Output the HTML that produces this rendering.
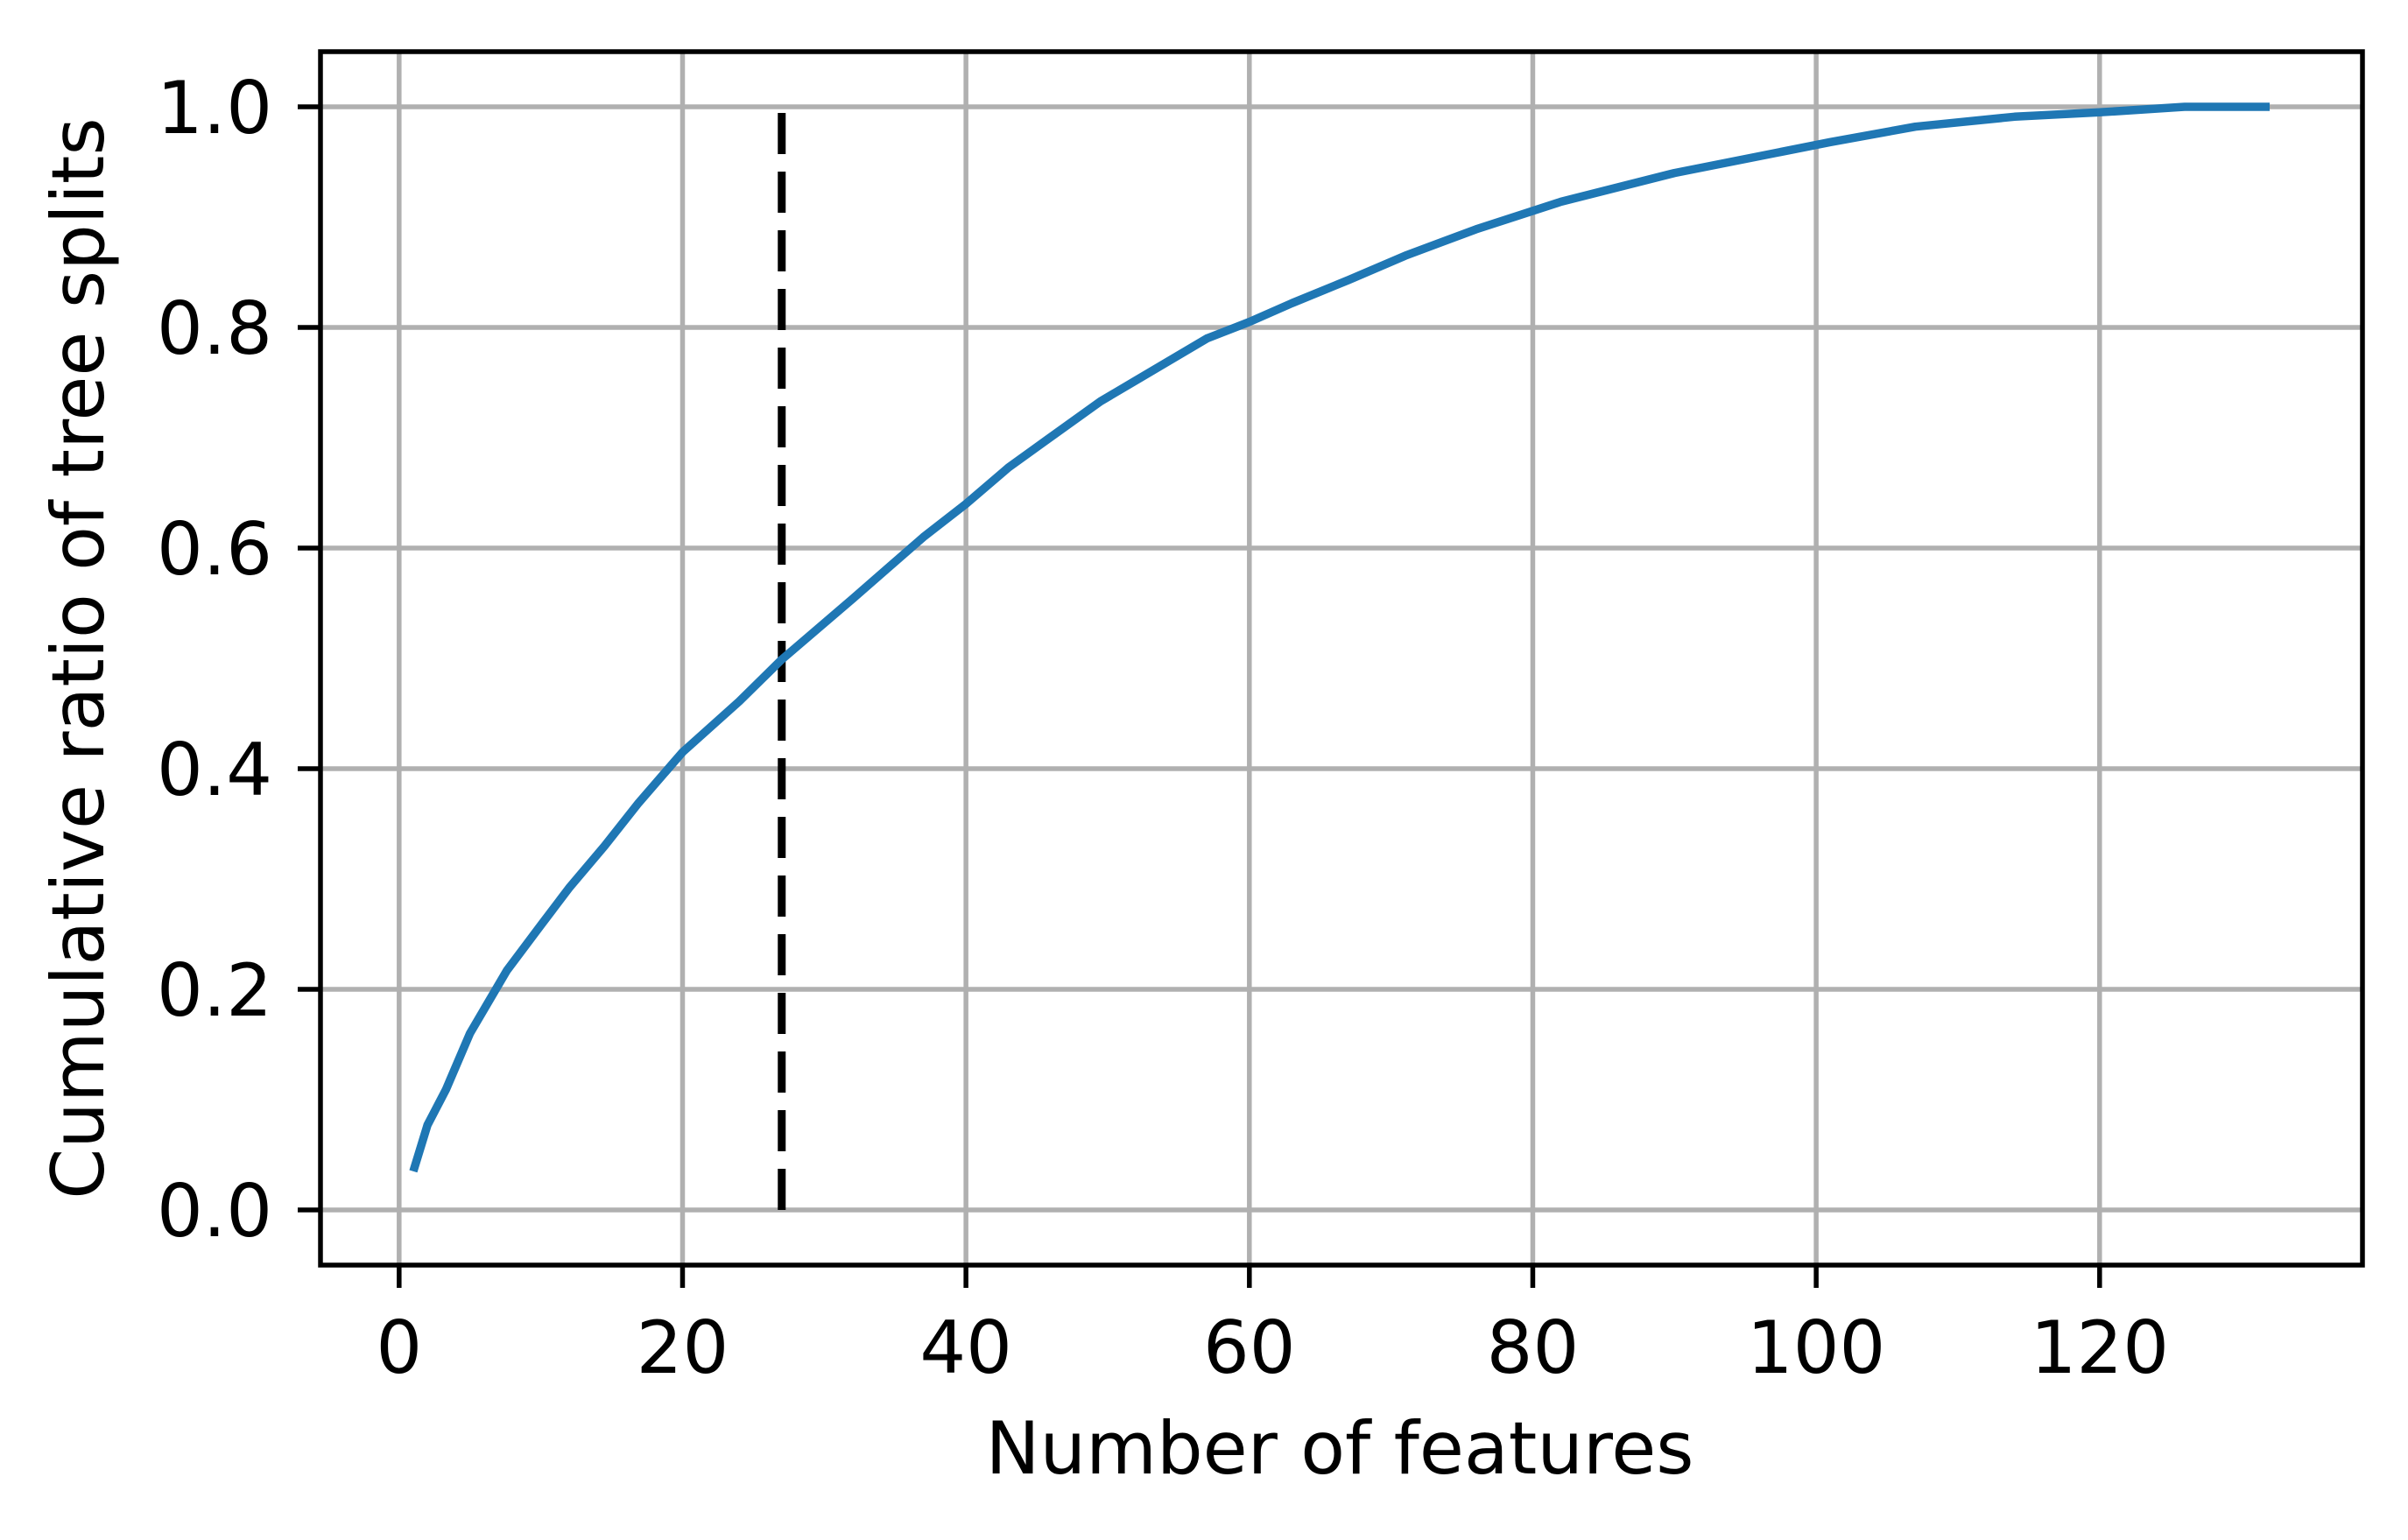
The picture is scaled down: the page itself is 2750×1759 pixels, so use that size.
<!DOCTYPE html>
<html><head><meta charset="utf-8"><style>
html,body{margin:0;padding:0;background:#fff;}
svg{display:block;}
text{font-family:"DejaVu Sans","Liberation Sans",sans-serif;fill:#000;}
</style></head><body>
<svg id="chart" width="2750" height="1759" viewBox="0 0 2750 1759" xmlns="http://www.w3.org/2000/svg">
<rect width="2750" height="1759" fill="#fff"/>
<g id="grid"></g>
<g id="marks"></g>
<rect x="366" y="59" width="2332" height="1386" fill="none" stroke="#000" stroke-width="5.5"/>
<g id="ticks"></g>
<text x="1530" y="1683" font-size="83" text-anchor="middle">Number of features</text>
<text transform="translate(118,752) rotate(-90)" font-size="83" text-anchor="middle">Cumulative ratio of tree splits</text>
</svg>
<script>
const featureCounts = [1,2,3.3,5,7.6,10,12,14.5,16.9,20,24,27,32,37,40,43,45.7,49.5,52,57,60,63,67,71,76,82,90,101,107,114,120,126,132];
const cumulativeRatio = [0.035,0.077,0.109,0.16,0.217,0.258,0.292,0.33,0.369,0.415,0.461,0.499,0.554,0.610,0.64,0.673,0.698,0.733,0.752,0.790,0.805,0.822,0.843,0.865,0.889,0.914,0.940,0.968,0.982,0.991,0.995,1.0,1.0];
const xTicks = [0,20,40,60,80,100,120];
const yTicks = [0.0,0.2,0.4,0.6,0.8,1.0];
const yTickLabels = ["0.0","0.2","0.4","0.6","0.8","1.0"];
const cutoffFeature = 27;
const cutoffRange = [0,1];

const NS = "http://www.w3.org/2000/svg";
const L=366,R=2698,T=59,B=1445;
const xMin=-5.55,xMax=138.55,yMin=-0.05,yMax=1.05;
function xs(v){return L+(v-xMin)/(xMax-xMin)*(R-L);}
function ys(v){return B-(v-yMin)/(yMax-yMin)*(B-T);}
function mk(tag,attrs,parent){const e=document.createElementNS(NS,tag);for(const k in attrs)e.setAttribute(k,attrs[k]);parent.appendChild(e);return e;}
const grid=document.getElementById('grid'),marks=document.getElementById('marks'),ticks=document.getElementById('ticks');

xTicks.forEach(v=>{
  const g=mk('line',{x1:xs(v),x2:xs(v),y1:T,y2:B,stroke:'#b0b0b0','stroke-width':5.5},grid);
  
  
  const t=mk('line',{x1:xs(v),x2:xs(v),y1:B,y2:B+26,stroke:'#000','stroke-width':5.5},ticks);
  
  
  const lb=mk('text',{x:xs(v),y:1568,'font-size':83,'text-anchor':'middle'},ticks);
  lb.textContent=String(v);
  
  
});
yTicks.forEach((v,i)=>{
  const g=mk('line',{x1:L,x2:R,y1:ys(v),y2:ys(v),stroke:'#b0b0b0','stroke-width':5.5},grid);
  
  
  const t=mk('line',{x1:L-26,x2:L,y1:ys(v),y2:ys(v),stroke:'#000','stroke-width':5.5},ticks);
  
  
  const lb=mk('text',{x:L-55,y:ys(v)+30,'font-size':83,'text-anchor':'end'},ticks);
  lb.textContent=yTickLabels[i];
  
  
});

const cut=mk('line',{x1:xs(cutoffFeature),x2:xs(cutoffFeature),y1:ys(cutoffRange[0]),y2:ys(cutoffRange[1]),stroke:'#000','stroke-width':9,'stroke-dasharray':'47 20'},marks);



const pts=featureCounts.map((x,i)=>xs(x).toFixed(1)+','+ys(cumulativeRatio[i]).toFixed(1)).join(' ');
const line=mk('polyline',{points:pts,fill:'none',stroke:'#1f77b4','stroke-width':9.5,'stroke-linejoin':'round'},marks);


</script>
</body></html>
